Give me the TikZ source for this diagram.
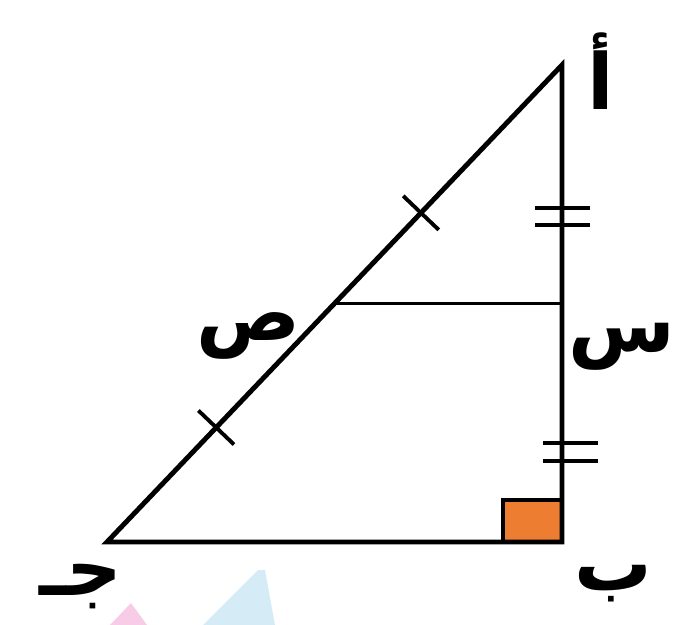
\documentclass[tikz,border=0pt]{standalone}
\usepackage{fontspec}
\usetikzlibrary{calc}
\TeXXeTstate=1
\newfontfamily\arabicfont[Script=Arabic]{DejaVu Sans}
\definecolor{ink}{HTML}{000000}
\definecolor{squareorange}{HTML}{ED7D31}
\definecolor{markpink}{HTML}{F8CCE6}
\definecolor{markcyan}{HTML}{D5ECF7}
\tikzset{
  side/.style={ink,line width=2.8pt,line join=miter},
  midline/.style={ink,line width=1.6pt},
  tickmark/.style={ink,line width=2.2pt},
  vlabel/.style={font=\arabicfont\bfseries\fontsize{44}{44}\selectfont,inner sep=0pt}
}

\begin{document}
\begin{tikzpicture}[x=0.02cm,y=-0.02cm]
  \useasboundingbox (0,0) rectangle (686,625);
  % faint marks at the bottom
  \fill[markpink] (110,625) -- (131,603) -- (147,625) -- cycle;
  \fill[markcyan] (203,625) -- (258,570) -- (265,570) -- (275,625) -- cycle;
  % vertices and midpoints
  \coordinate (A) at (562,65);
  \coordinate (B) at (562,542);
  \coordinate (C) at (107,542);
  \coordinate (S) at ($(A)!0.5!(B)$);
  \coordinate (P) at ($(A)!0.5!(C)$);
  % right angle at B
  \draw[ink,line width=2.2pt,fill=squareorange] (503,500) rectangle (B);
  \draw[side] (A) -- (B) -- (C) -- cycle;
  \draw[midline] (P) -- (S);
  % equal halves of AC
  \foreach \t in {0.24,0.69} {
    \coordinate (t) at ($(C)!\t!(A)$);
    \draw[tickmark] ($(t)!14pt!90:(A)$) -- ($(t)!14pt!-90:(A)$);
  }
  % equal halves of AB
  \foreach \y in {208,225} \draw[tickmark] (535,\y) -- (590,\y);
  \foreach \y in {443,461} \draw[tickmark] (543,\y) -- (598,\y);
  % labels
  \node[vlabel] (lA) at (601,71) {\beginR أ\endR};
  \node[vlabel] (lS) at (622,347) {\beginR س\endR};
  \node[vlabel] (lB) at (613,584) {\beginR ب\endR};
  \node[vlabel] (lC) at (81,587) {\beginR جـ\endR};
  \node[vlabel] (lP) at (248,336) {\beginR ص\endR};
\end{tikzpicture}
\end{document}
